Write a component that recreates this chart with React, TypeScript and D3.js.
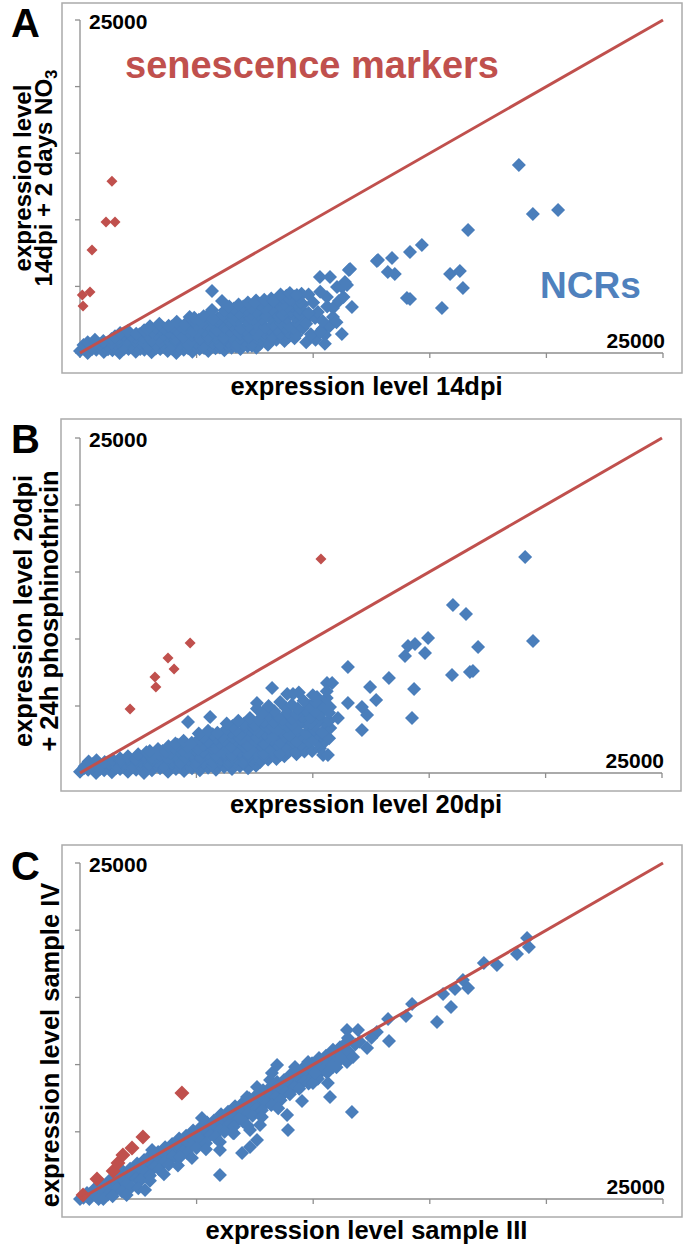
import React from 'react';
import * as d3 from 'd3';

type Pt = [number, number];

const AXIS_MAX = 25000;
const maxLabel = '25000';

// ---------- Panel A: expression level 14dpi vs 14dpi + 2 days NO3 ----------
const aRed: Pt[] = [
  [1370, 12900], [1115, 9840], [1500, 9840], [515, 7730], [100, 4350], [430, 4580], [130, 3530],
];
const aBlueScatter: Pt[] = [
  [5660, 4650], [6090, 3900], [5660, 3230], [9560, 1880], [9800, 4400], [10080, 2630], [10200, 3080],
  [10290, 5700], [10400, 1800], [10500, 1350], [10590, 4200], [10720, 5700], [10850, 3380], [10850, 2700],
  [11020, 4950], [11230, 1430], [11230, 4950], [11360, 5330], [11450, 5100], [11530, 6230], [11580, 6300],
  [11660, 3450], [9700, 800], [10100, 1000], [10500, 700], [9900, 1400], [10300, 1600], [10700, 2000],
  [11000, 2300], [9700, 2200], [10400, 2400], [9800, 3000], [10600, 3500], [11100, 3900], [10000, 3800],
  [10300, 4600], [11300, 4200], [12730, 6900], [12780, 6980], [13200, 6080], [13380, 7130], [13500, 5930],
  [14020, 4130], [14150, 7580], [14150, 4050], [14660, 8110], [15520, 3380], [15870, 5930], [16290, 6160],
  [16420, 4880], [16640, 9230], [18820, 14110], [19420, 10440], [20500, 10740],
];
const aBlueCloud: Pt[] = [
  [0, 150], [330, 0], [700, 250], [1020, 80], [1390, 200], [1700, 0], [2080, 300], [2390, 100], [2760, 250],
  [3070, 50], [3440, 300], [3760, 150], [4130, 0], [4450, 250], [4820, 100], [5130, 300], [5500, 150],
  [5810, 350], [6190, 200], [6500, 400], [6880, 300], [7190, 500], [7560, 400],
  [170, 350], [520, 300], [880, 400], [1200, 280], [1560, 380], [1890, 320], [2240, 420], [2580, 300],
  [2930, 400], [3250, 330], [3620, 450], [3950, 320], [4300, 420], [4640, 350], [4980, 470], [5320, 380],
  [5660, 500], [6000, 420], [6350, 560], [6690, 480], [7030, 620], [7370, 540], [7720, 680], [8060, 620],
  [150, 600], [480, 450], [850, 650], [1180, 500], [1530, 700], [1870, 450], [2220, 600], [2570, 750],
  [2910, 500], [3260, 650], [3600, 800], [3950, 550], [4290, 700], [4640, 600], [4980, 800], [5320, 550],
  [5670, 750], [6010, 650], [6360, 850], [6700, 700], [7050, 900], [7390, 750], [7740, 950], [8080, 850],
  [8420, 1000], [8770, 900],
  [330, 800], [670, 750], [1010, 820], [1350, 760], [1700, 880], [2040, 800], [2390, 900], [2730, 820],
  [3080, 950], [3420, 870], [3770, 1000], [4110, 900], [4460, 1050], [4800, 950], [5150, 1080], [5490, 1000],
  [5840, 1120], [6180, 1050], [6530, 1150], [6870, 1100], [7220, 1200], [7560, 1120], [7910, 1250],
  [8250, 1150], [8600, 1300], [8940, 1200], [9200, 1100],
  [640, 1000], [1000, 900], [1350, 1050], [1690, 1150], [2040, 950], [2380, 1100], [2730, 1200], [3070, 1000],
  [3420, 1150], [3760, 1300], [4110, 1050], [4450, 1200], [4800, 1350], [5140, 1100], [5490, 1250],
  [5830, 1400], [6180, 1150], [6520, 1300], [6870, 1450], [7210, 1200], [7560, 1350], [7900, 1500],
  [8250, 1300], [8590, 1450], [8940, 1600], [9280, 1350],
  [1500, 1250], [1850, 1350], [2200, 1300], [2550, 1400], [2900, 1350], [3250, 1450], [3600, 1400],
  [3950, 1550], [4300, 1450], [4650, 1600], [5000, 1500], [5350, 1650], [5700, 1600], [6050, 1700],
  [6400, 1650], [6700, 1750], [7050, 1700], [7400, 1800], [7750, 1750], [8100, 1850], [8450, 1800],
  [8800, 1900], [9150, 1850], [9450, 1950],
  [1720, 1500], [2060, 1650], [2410, 1450], [2750, 1700], [3100, 1600], [3440, 1800], [3790, 1550],
  [4130, 1750], [4480, 1900], [4820, 1650], [5170, 1850], [5510, 2000], [5860, 1750], [6200, 1950],
  [6550, 2100], [6890, 1850], [7240, 2050], [7580, 2200], [7930, 1950], [8270, 2150], [8620, 2300],
  [8960, 2050], [9310, 2250], [9650, 2400],
  [2900, 1800], [3250, 1900], [3600, 1850], [3950, 2000], [4300, 2050], [4650, 2150], [5000, 2100],
  [5350, 2250], [5700, 2300], [6050, 2350], [6400, 2400], [6750, 2450], [7100, 2500], [7450, 2550],
  [7800, 2600], [8150, 2650], [8500, 2700], [8850, 2600], [9200, 2700], [9500, 2600],
  [3000, 2000], [3400, 2200], [3800, 2050], [4150, 2350], [4500, 2150], [4850, 2450], [5200, 2300],
  [5550, 2600], [5900, 2400], [6250, 2700], [6600, 2500], [6950, 2800], [7300, 2650], [7650, 2950],
  [8000, 2750], [8350, 3050], [8700, 2850], [9050, 3150], [9400, 2950],
  [4700, 2700], [5100, 2500], [5500, 2850], [5900, 2650], [6300, 3000], [6650, 2800], [7000, 3150],
  [7350, 2950], [7700, 3300], [8050, 3100], [8400, 3450], [8750, 3250], [9100, 3550], [9450, 3350],
  [4900, 2650], [5300, 2750], [5700, 2550], [6100, 2850], [6450, 3050], [6850, 3000], [7150, 3250],
  [7550, 3100], [7900, 3400], [8200, 3300], [8550, 3600], [8900, 3500], [9250, 3800], [9550, 3650],
  [6200, 3200], [6600, 3350], [7000, 3500], [7350, 3400], [7700, 3700], [8050, 3550], [8400, 3850],
  [8750, 3700], [9100, 4000], [9450, 3850],
  [6400, 3500], [6800, 3650], [7200, 3800], [7550, 3950], [7850, 3850], [8200, 4100], [8550, 4050],
  [8850, 4300], [9200, 4250], [9500, 4450],
  [7500, 3800], [7900, 4000], [8300, 3900], [8700, 4150], [9000, 4000], [9400, 4200],
  [8600, 4400], [9000, 4500], [9300, 4350],
];
const aBlue: Pt[] = [...aBlueCloud, ...aBlueScatter];

// ---------- Panel B: expression level 20dpi vs 20dpi + 24h phosphinothricin ----------
const bRed: Pt[] = [
  [10350, 15970], [4730, 9700], [3780, 8580], [4040, 7760], [3220, 7160], [3260, 6420], [2150, 4780],
];
const bBlueScatter: Pt[] = [
  [4640, 3810], [5590, 4180], [7600, 5220], [8250, 6340], [9150, 5900], [10180, 5670], [10610, 6720],
  [10830, 6720], [10740, 4930], [10440, 1340], [10650, 1340], [11080, 4100], [11510, 7910], [11510, 5220],
  [12110, 4930], [12110, 3210], [12330, 4330], [12460, 6420], [12720, 5450], [13270, 7090], [13960, 8730],
  [14090, 9480], [14260, 4100], [14350, 6270], [14390, 9630], [14820, 8960], [14950, 10080], [15980, 7310],
  [16020, 12540], [16580, 11870], [16750, 7540], [16880, 7610], [17100, 9400], [19120, 16120], [19460, 9850],
];
const bBlueCloud: Pt[] = [
  [0, 100], [350, 250], [690, 0], [1040, 200], [1370, 50], [1720, 300], [2060, 100], [2410, 250], [2750, 0],
  [3090, 200], [3440, 350], [3780, 100], [4120, 300], [4470, 150], [4810, 350], [5150, 200], [5500, 400],
  [5840, 250], [6190, 450], [6530, 300], [6870, 500], [7220, 350], [7560, 550],
  [170, 350], [520, 450], [860, 300], [1200, 500], [1550, 380], [1890, 550], [2230, 420], [2580, 600],
  [2920, 480], [3260, 650], [3610, 520], [3950, 700], [4290, 560], [4640, 750], [4980, 600], [5320, 800],
  [5670, 650], [6010, 850], [6360, 700], [6700, 900], [7040, 750], [7390, 950], [7730, 800], [8080, 1000],
  [200, 500], [540, 650], [890, 450], [1230, 700], [1570, 550], [1920, 750], [2260, 600], [2600, 800],
  [2950, 650], [3290, 850], [3630, 700], [3980, 900], [4320, 750], [4660, 950], [5010, 800], [5350, 1000],
  [5690, 850], [6040, 1050], [6380, 900], [6720, 1100], [7070, 950], [7410, 1150], [7750, 1000], [8090, 1200],
  [8440, 1050], [8780, 1250],
  [370, 850], [710, 950], [1060, 820], [1400, 1000], [1740, 880], [2090, 1050], [2430, 920], [2770, 1100],
  [3120, 980], [3460, 1150], [3800, 1020], [4150, 1200], [4490, 1080], [4830, 1250], [5180, 1120],
  [5520, 1300], [5860, 1180], [6210, 1350], [6550, 1220], [6890, 1400], [7240, 1260], [7580, 1450],
  [7920, 1300], [8270, 1500], [8610, 1350], [8950, 1550], [9300, 1400], [9640, 1600],
  [1720, 1100], [2060, 1250], [2400, 1050], [2750, 1300], [3090, 1150], [3440, 1350], [3780, 1200],
  [4120, 1400], [4470, 1250], [4810, 1450], [5150, 1300], [5500, 1500], [5840, 1350], [6190, 1550],
  [6530, 1400], [6870, 1600], [7220, 1450], [7560, 1650], [7900, 1500], [8250, 1700], [8590, 1550],
  [8930, 1750], [9280, 1600], [9620, 1800], [9970, 1650], [10310, 1850],
  [2500, 1400], [2850, 1550], [3200, 1450], [3550, 1650], [3900, 1500], [4250, 1700], [4600, 1550],
  [4950, 1750], [5300, 1600], [5650, 1850], [6000, 1650], [6350, 1900], [6700, 1750], [7050, 2000],
  [7400, 1850], [7750, 2100], [8100, 1950], [8450, 2150], [8800, 2050], [9150, 2250], [9500, 2150],
  [9850, 2350], [10200, 2250], [10550, 2400],
  [3000, 1650], [3350, 1800], [3700, 1600], [4050, 1900], [4400, 1700], [4750, 2000], [5100, 1800],
  [5450, 2100], [5800, 1900], [6150, 2200], [6500, 2000], [6850, 2300], [7200, 2100], [7550, 2400],
  [7900, 2200], [8250, 2500], [8600, 2300], [8950, 2600], [9300, 2400], [9650, 2700], [10000, 2500],
  [10350, 2800], [10700, 2600],
  [3800, 2000], [4200, 2100], [4600, 2000], [4950, 2250], [5300, 2100], [5650, 2400], [6000, 2250],
  [6350, 2500], [6700, 2400], [7050, 2650], [7400, 2550], [7750, 2800], [8100, 2650], [8450, 2900],
  [8800, 2750], [9150, 3000], [9500, 2850], [9850, 3100], [10200, 2950], [10550, 3200],
  [4100, 2200], [4450, 2400], [4800, 2250], [5150, 2500], [5500, 2350], [5850, 2600], [6200, 2450],
  [6550, 2700], [6900, 2550], [7250, 2850], [7600, 2650], [7950, 2950], [8300, 2750], [8650, 3050],
  [9000, 2850], [9350, 3150], [9700, 2950], [10050, 3250], [10400, 3050], [10750, 3350],
  [5300, 2700], [5700, 2900], [6100, 2750], [6500, 3050], [6900, 2900], [7300, 3200], [7700, 3100],
  [8100, 3350], [8500, 3250], [8900, 3500], [9300, 3400], [9700, 3650], [10100, 3550], [10500, 3800],
  [5100, 2950], [5500, 3150], [5900, 3000], [6300, 3300], [6700, 3150], [7100, 3450], [7500, 3300],
  [7900, 3600], [8300, 3450], [8700, 3750], [9100, 3600], [9500, 3900], [9900, 3750], [10300, 4050],
  [10700, 3900],
  [6550, 3500], [7050, 3700], [7500, 3600], [7900, 3850], [8300, 3800], [8700, 4000], [9100, 4050],
  [9500, 4250], [9900, 4200], [10300, 4400], [10700, 4500],
  [6300, 3700], [6800, 3900], [7300, 4100], [7700, 4000], [8100, 4300], [8500, 4200], [8900, 4500],
  [9300, 4400], [9700, 4700], [10100, 4600], [10500, 4900],
  [7850, 4500], [8350, 4600], [8850, 4850], [9350, 4800], [9850, 5000], [10350, 5100],
  [7600, 4800], [8100, 5000], [8600, 5300], [9100, 5100], [9600, 5400], [10100, 5300], [10600, 5600],
  [8900, 5900], [9400, 6000], [10000, 5800], [10600, 6100],
];
const bBlue: Pt[] = [...bBlueCloud, ...bBlueScatter];

// ---------- Panel C: expression level sample III vs sample IV ----------
const cRed: Pt[] = [
  [130, 300], [730, 1490], [1420, 2080], [1630, 2680], [1840, 3270], [2230, 3790], [2700, 4610], [4370, 7890],
];
const cBlueScatter: Pt[] = [
  [2790, 670], [3090, 3650], [4290, 3130], [5230, 6030], [6000, 3650], [6000, 1790], [6430, 6400],
  [6560, 4910], [6950, 3420], [7160, 7590], [7290, 5130], [7290, 3870], [7590, 8330], [7590, 4390],
  [7720, 5510], [8150, 8850], [8230, 9370], [8450, 9970], [8880, 6250], [8920, 5130], [9220, 9820],
  [9520, 7290], [9780, 10190], [9990, 8630], [10080, 9370], [10630, 8630], [10720, 7590], [10850, 9820],
  [11150, 10340], [11450, 10190], [11490, 11980], [11660, 6470], [11710, 10570], [11920, 12570],
  [12310, 11230], [12730, 12430], [13210, 13390], [13250, 11760], [13980, 13620], [14240, 14510],
  [15310, 13170], [15570, 15250], [15910, 14290], [16080, 15620], [16420, 16290], [16640, 15700],
  [17320, 17560], [17880, 17410], [18740, 18230], [19170, 19420], [19250, 18750], [12000, 11700],
  [12500, 12000], [11800, 11500], [11450, 12570],
];
const cBlueCloud: Pt[] = [
  [300, 450], [650, 800], [950, 1100], [1250, 1350], [1550, 1700], [1850, 2050], [2150, 2250], [2450, 2650],
  [2750, 2900], [3050, 3300], [3350, 3500], [3650, 3850], [3950, 4100], [4250, 4500], [4550, 4700],
  [4850, 5100], [5150, 5300], [5450, 5700], [5750, 5850], [6050, 6300], [6350, 6500], [6650, 6900],
  [6950, 7100], [7250, 7500], [7550, 7700], [7850, 8100], [8150, 8300], [8450, 8700], [8750, 8850],
  [9050, 9300], [9350, 9500], [9650, 9900], [9950, 10100], [10250, 10500], [10550, 10650], [10850, 11100],
  [11150, 11300], [11450, 11700],
  [150, 100], [480, 330], [800, 680], [1100, 1000], [1400, 1230], [1700, 1580], [2000, 1840], [2300, 2170],
  [2600, 2430], [2900, 2780], [3200, 3030], [3500, 3370], [3800, 3640], [4100, 3980], [4400, 4230],
  [4700, 4570], [5000, 4860], [5300, 5160], [5600, 5430], [5900, 5770], [6200, 6030], [6500, 6380],
  [6800, 6640], [7100, 6960], [7400, 7230], [7700, 7580], [8000, 7840], [8300, 8170], [8600, 8430],
  [8900, 8780], [9200, 9030], [9500, 9370], [9800, 9630], [10100, 9980], [10400, 10230], [10700, 10570],
  [11000, 10830], [11300, 11170],
  [0, 0], [400, 0], [700, 200], [1000, 450], [1300, 800], [1600, 1100], [1900, 1350], [2200, 1700],
  [2500, 2000], [2800, 2300], [3100, 2550], [3400, 2900], [3700, 3200], [4000, 3450], [4300, 3800],
  [4600, 4100], [4900, 4350], [5200, 4700], [5500, 5000], [5800, 5250], [6100, 5600], [6400, 5900],
  [6700, 6150], [7000, 6500], [7300, 6800], [7600, 7050], [7900, 7400], [8200, 7700], [8500, 7950],
  [8800, 8300], [9100, 8600], [9400, 8850], [9700, 9200], [10000, 9500], [10300, 9750], [10600, 10100],
  [10900, 10400], [11200, 10650], [11500, 11000],
  [800, 0], [1200, 330], [1600, 770], [2000, 1130], [2400, 1520], [2800, 1930], [3200, 2370], [3600, 2730],
  [4000, 3170], [4400, 3530], [4800, 3970], [5200, 4330], [5600, 4770], [6000, 5130], [6400, 5570],
  [6800, 5930], [7200, 6370], [7600, 6730], [8000, 7170], [8400, 7530], [8800, 7970], [9200, 8330],
  [9600, 8770], [10000, 9130], [10400, 9570], [10800, 9930],
  [1000, 0], [1400, 200], [1800, 550], [2200, 900], [2600, 1400], [3000, 1750], [3400, 2200], [3800, 2550],
  [4200, 3000], [4600, 3400], [5000, 3800], [5400, 4150], [5800, 4600], [6200, 5000], [6600, 5400],
  [7000, 5750], [7400, 6200], [7800, 6600], [8200, 7000], [8600, 7350], [9000, 7800], [9400, 8200],
  [9800, 8600], [10200, 8950], [10600, 9400], [11000, 9800],
  [2000, 300], [2500, 800], [3000, 1350], [3600, 1850], [4200, 2500], [4800, 3050], [5400, 3700],
  [6000, 4250], [6600, 4900], [7200, 5450], [7800, 6100], [8500, 6750],
];
const cBlue: Pt[] = [...cBlueCloud, ...cBlueScatter];

const BLUE = '#4a7ebb';
const RED = '#c0504d';
const FONT = '"Liberation Sans", Arial, Helvetica, sans-serif';

interface Panel {
  letter: string;
  letterY: number;
  frame: { x: number; y: number; w: number; h: number };
  plot: { left: number; right: number; bottom: number; top: number };
  blue: Pt[];
  red: Pt[];
  blueR: number;
  redR: number;
  yLines: { text: string; sub?: string; x: number }[];
  yCenter: number;
  yFont: number;
  xTitle: string;
}

const panels: Panel[] = [
  {
    letter: 'A', letterY: 37,
    frame: { x: 62, y: 3, w: 620, h: 370 },
    plot: { left: 80, right: 663, bottom: 353, top: 20 },
    blue: aBlue, red: aRed, blueR: 7, redR: 5.5,
    yLines: [
      { text: 'expression level', x: 31 },
      { text: '14dpi + 2 days NO', sub: '3', x: 52 },
    ],
    yCenter: 178, yFont: 24,
    xTitle: 'expression level 14dpi',
  },
  {
    letter: 'B', letterY: 453,
    frame: { x: 61, y: 419, w: 620, h: 372 },
    plot: { left: 80, right: 662, bottom: 773, top: 438 },
    blue: bBlue, red: bRed, blueR: 7, redR: 5.5,
    yLines: [
      { text: 'expression level 20dpi', x: 32 },
      { text: '+ 24h phosphinothricin', x: 58 },
    ],
    yCenter: 611, yFont: 25.5,
    xTitle: 'expression level 20dpi',
  },
  {
    letter: 'C', letterY: 880,
    frame: { x: 62, y: 845, w: 620, h: 372 },
    plot: { left: 80, right: 663, bottom: 1199, top: 863 },
    blue: cBlue, red: cRed, blueR: 7, redR: 7.5,
    yLines: [{ text: 'expression level sample IV', x: 59 }],
    yCenter: 1045, yFont: 25.5,
    xTitle: 'expression level sample III',
  },
];

const diamond = (r: number) => `M0,${-r}L${r},0L0,${r}L${-r},0Z`;

function PanelView({ p }: { p: Panel }) {
  const x = d3.scaleLinear().domain([0, AXIS_MAX]).range([p.plot.left, p.plot.right]);
  const y = d3.scaleLinear().domain([0, AXIS_MAX]).range([p.plot.bottom, p.plot.top]);
  const ticks = x.ticks(5);
  const diag = d3.line<Pt>().x((d) => x(d[0])).y((d) => y(d[1]))([[0, 0], [AXIS_MAX, AXIS_MAX]]) || '';
  const axisColor = '#8e8e8e';
  const cx = (p.plot.left + p.plot.right) / 2 - 5;
  return (
    <g>
      <rect x={p.frame.x} y={p.frame.y} width={p.frame.w} height={p.frame.h} fill="#fff" stroke="#ababab" strokeWidth={1.5} />
      <line x1={x(0)} x2={x(0)} y1={y(0)} y2={y(AXIS_MAX)} stroke={axisColor} strokeWidth={1.3} />
      <line x1={x(0)} x2={x(AXIS_MAX)} y1={y(0)} y2={y(0)} stroke={axisColor} strokeWidth={1.3} />
      {ticks.map((t) => (
        <line key={'yt' + t} x1={x(0) - 5} x2={x(0)} y1={y(t)} y2={y(t)} stroke={axisColor} strokeWidth={1.3} />
      ))}
      {ticks.map((t) => (
        <line key={'xt' + t} x1={x(t)} x2={x(t)} y1={y(0)} y2={y(0) + 5} stroke={axisColor} strokeWidth={1.3} />
      ))}
      <text x={x(0) + 9} y={y(AXIS_MAX) + 9} fontFamily={FONT} fontWeight="bold" fontSize={21} fill="#000">{maxLabel}</text>
      <text x={x(AXIS_MAX) + 2} y={y(0) - 5} textAnchor="end" fontFamily={FONT} fontWeight="bold" fontSize={21} fill="#000">{maxLabel}</text>
      {p.blue.map((d, i) => (
        <path key={'b' + i} d={diamond(p.blueR)} transform={`translate(${x(d[0])},${y(d[1])})`} fill={BLUE} />
      ))}
      {p.red.map((d, i) => (
        <path key={'r' + i} d={diamond(p.redR)} transform={`translate(${x(d[0])},${y(d[1])})`} fill={RED} />
      ))}
      <path d={diag} stroke={RED} strokeWidth={3} fill="none" />
      <text x={cx} y={p.frame.y + p.frame.h + 22} textAnchor="middle" fontFamily={FONT} fontWeight="bold" fontSize={25.5} fill="#000">{p.xTitle}</text>
      {p.yLines.map((l, i) => (
        <text key={'yl' + i} transform={`translate(${l.x},${p.yCenter}) rotate(-90)`} textAnchor="middle" fontFamily={FONT} fontWeight="bold" fontSize={p.yFont} fill="#000">
          {l.text}
          {l.sub ? <tspan fontSize={p.yFont * 0.7} dy={5}>{l.sub}</tspan> : null}
        </text>
      ))}
      <text x={11} y={p.letterY} fontFamily={FONT} fontWeight="bold" fontSize={40} fill="#000">{p.letter}</text>
    </g>
  );
}

export default function App() {
  return (
    <svg width={685} height={1247} style={{ position: 'absolute', left: 0, top: 0, background: '#fff' }}>
      <rect width={685} height={1247} fill="#fff" />
      {panels.map((p) => <PanelView key={p.letter} p={p} />)}
      <text x={125} y={78} fontFamily={FONT} fontWeight="bold" fontSize={38} fill={RED}>senescence markers</text>
      <text x={540} y={298} fontFamily={FONT} fontWeight="bold" fontSize={37} fill="#4f81bd">NCRs</text>
    </svg>
  );
}
